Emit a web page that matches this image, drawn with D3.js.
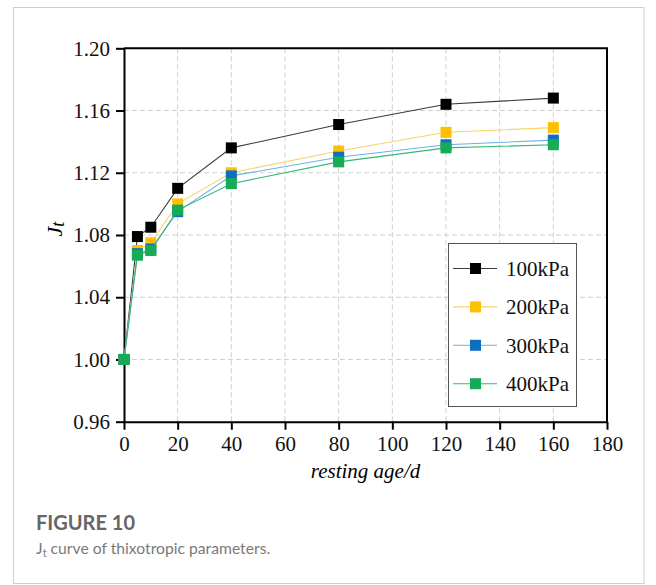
<!DOCTYPE html>
<html>
<head>
<meta charset="utf-8">
<style>
    body { margin: 0; background: #fff; }
    svg { display: block; }
    .grid line { stroke: #cfcfcf; stroke-dasharray: 5,3; stroke-width: 1; }
</style>
<script src="https://cdn.jsdelivr.net/npm/d3@7"></script>
</head>
<body>
<script>
    // data
    const ages = [0, 5, 10, 20, 40, 80, 120, 160];
    const seriesNames = ['100kPa', '200kPa', '300kPa', '400kPa'];
    const jt100 = [1.000, 1.079, 1.085, 1.110, 1.136, 1.151, 1.164, 1.168];
    const jt200 = [1.000, 1.070, 1.075, 1.100, 1.120, 1.134, 1.146, 1.149];
    const jt300 = [1.000, 1.068, 1.071, 1.095, 1.118, 1.130, 1.138, 1.141];
    const jt400 = [1.000, 1.067, 1.070, 1.096, 1.113, 1.127, 1.136, 1.138];
    const xTicks = [0, 20, 40, 60, 80, 100, 120, 140, 160, 180];
    const yTicks = [0.96, 1.00, 1.04, 1.08, 1.12, 1.16, 1.20];

    const markerColors = ['#000000', '#FFC000', '#0E6FC1', '#17AB55'];
    const lineColors = ['#3a3a3a', '#F7D46A', '#6CB0E6', '#35B873'];

    const SERIF = '"Liberation Serif", "Times New Roman", serif';
    const W = 656, H = 585;
    const plot = { left: 124, right: 607, top: 48.3, bottom: 421.7 };

    const svg = d3.select('body').append('svg')
        .attr('width', W).attr('height', H);

    // card border
    svg.append('rect')
        .attr('x', 13.5).attr('y', 7.5)
        .attr('width', 630.5).attr('height', 576)
        .attr('fill', '#fff').attr('stroke', '#cfcfcf');

    const x = d3.scaleLinear().domain([0, 180]).range([plot.left, plot.right]);
    const y = d3.scaleLinear().domain([0.96, 1.20]).range([plot.bottom, plot.top]);

    // dashed grid
    const grid = svg.append('g').attr('class', 'grid');
    grid.selectAll('line.v')
        .data(xTicks.filter(t => t > 0 && t < 180))
        .enter().append('line')
        .attr('x1', d => x(d)).attr('x2', d => x(d))
        .attr('y1', plot.top).attr('y2', plot.bottom);
    grid.selectAll('line.h')
        .data(yTicks.filter(t => t > 0.97 && t < 1.19))
        .enter().append('line')
        .attr('y1', d => y(d)).attr('y2', d => y(d))
        .attr('x1', plot.left).attr('x2', plot.right);

    // frame (top / right)
    svg.append('path')
        .attr('d', `M${plot.left},${plot.top}H${plot.right}V${plot.bottom}`)
        .attr('fill', 'none').attr('stroke', '#000').attr('stroke-width', 2);

    function styleAxis(g) {
        g.attr('font-family', null).attr('font-size', null);
        g.select('.domain').attr('stroke', '#000').attr('stroke-width', 2);
        g.selectAll('.tick line').attr('stroke', '#000').attr('stroke-width', 2);
        g.selectAll('.tick text')
            .style('font-family', SERIF)
            .style('font-size', '21px')
            .attr('fill', '#111');
    }

    svg.append('g')
        .attr('transform', `translate(0,${plot.bottom})`)
        .call(d3.axisBottom(x).tickValues(xTicks).tickSize(8).tickPadding(6).tickSizeOuter(0))
        .call(styleAxis);

    svg.append('g')
        .attr('transform', `translate(${plot.left},0)`)
        .call(d3.axisLeft(y).tickValues(yTicks).tickFormat(d3.format('.2f')).tickSize(8).tickPadding(6).tickSizeOuter(0))
        .call(styleAxis);

    // axis titles
    svg.append('text')
        .attr('x', (plot.left + plot.right) / 2).attr('y', 478)
        .attr('text-anchor', 'middle')
        .style('font-family', SERIF)
        .style('font-style', 'italic').style('font-size', '21px')
        .text('resting age/d');

    const yt = svg.append('text')
        .attr('transform', 'translate(62,229) rotate(-90)')
        .attr('text-anchor', 'middle')
        .style('font-family', SERIF)
        .style('font-style', 'italic').style('font-size', '22px');
    yt.append('tspan').text('J');
    yt.append('tspan').attr('dy', 2).style('font-size', '18px').text('t');

    // series
    const allSeries = [jt100, jt200, jt300, jt400].map((vals, i) => ({
        name: seriesNames[i],
        points: ages.map((a, j) => ({ age: a, v: vals[j] }))
    }));

    const line = d3.line().x(d => x(d.age)).y(d => y(d.v));
    const ms = 11;

    allSeries.forEach((s, i) => {
        const g = svg.append('g');
        g.append('path')
            .attr('d', line(s.points))
            .attr('fill', 'none')
            .attr('stroke', lineColors[i])
            .attr('stroke-width', 1.1);
        g.selectAll('rect')
            .data(s.points)
            .enter().append('rect')
            .attr('x', d => x(d.age) - ms / 2)
            .attr('y', d => y(d.v) - ms / 2)
            .attr('width', ms).attr('height', ms)
            .attr('fill', markerColors[i]);
    });

    // legend
    const legend = svg.append('g');
    legend.append('rect')
        .attr('x', 448.5).attr('y', 243.5)
        .attr('width', 128).attr('height', 163)
        .attr('fill', '#fff').attr('stroke', '#555').attr('stroke-width', 1);
    seriesNames.forEach((n, i) => {
        const ly = 268.5 + i * 38.4;
        legend.append('line')
            .attr('x1', 453).attr('x2', 497)
            .attr('y1', ly).attr('y2', ly)
            .attr('stroke', lineColors[i]).attr('stroke-width', 1.1);
        legend.append('rect')
            .attr('x', 475.5 - ms / 2).attr('y', ly - ms / 2)
            .attr('width', ms).attr('height', ms)
            .attr('fill', markerColors[i]);
        legend.append('text')
            .attr('x', 506).attr('y', ly + 7.5)
            .style('font-family', SERIF).style('font-size', '21px')
            .attr('fill', '#111')
            .text(n);
    });

    // caption
    svg.append('text')
        .attr('x', 36).attr('y', 529.5)
        .style('font-family', 'Lato, "Noto Sans", sans-serif')
        .style('font-size', '20px').style('font-weight', 'bold')
        .attr('fill', '#666')
        .text('FIGURE 10');
    const cap = svg.append('text')
        .attr('x', 36).attr('y', 554)
        .style('font-family', 'Lato, "Noto Sans", sans-serif')
        .style('font-size', '15.7px')
        .attr('fill', '#7a7a7a');
    cap.append('tspan').text('J');
    cap.append('tspan').attr('dy', 3).style('font-size', '11px').text('t');
    cap.append('tspan').attr('dy', -3).text(' curve of thixotropic parameters.');
</script>
</body>
</html>
